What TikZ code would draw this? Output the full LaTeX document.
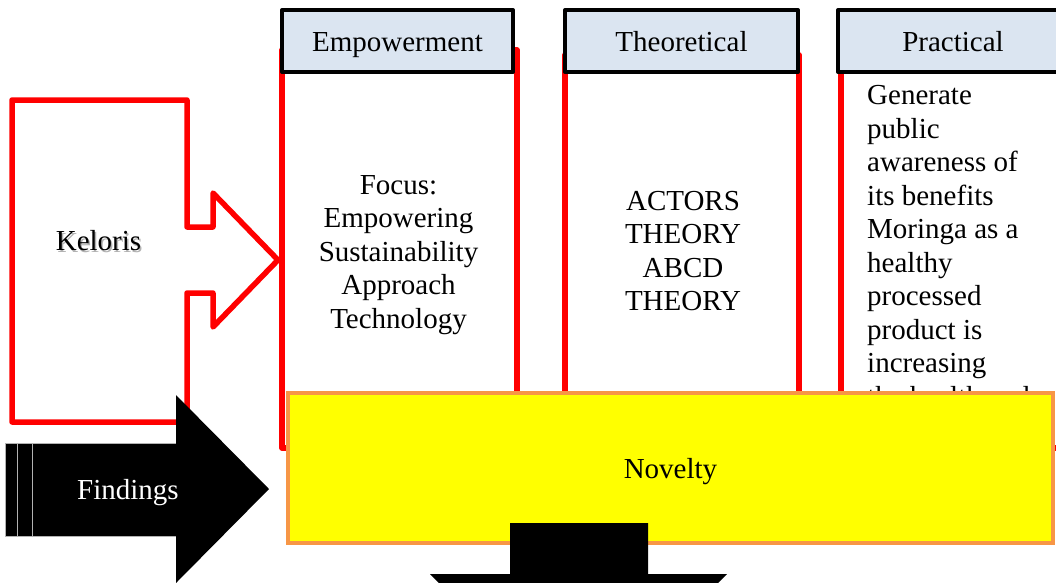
\documentclass[tikz,border=0pt]{standalone}
\usepackage{fontspec}
\setmainfont{Liberation Serif}
\definecolor{headfill}{HTML}{DBE5F1}
\definecolor{novorange}{HTML}{F79646}
\definecolor{novfill}{HTML}{FFFF00}
\begin{document}
\begin{tikzpicture}[x=1pt,y=-1pt,
  big/.style={font=\fontsize{29}{33.5}\selectfont},
  colframe/.style={draw=red, line width=5.5pt, line join=round, inner sep=0pt},
  headbox/.style={big, draw=black, fill=headfill, line width=4pt, line join=round,
    minimum height=62pt, text height=21pt, text depth=0pt, inner sep=0pt},
  onelabel/.style={big, text height=21pt, text depth=0pt, inner sep=0pt},
  blocktext/.style={big, inner sep=0pt}]
\useasboundingbox (0,0) rectangle (1056,582);
\clip (0,0) rectangle (1056,582);

% red column frames
\node[colframe, minimum width=235pt, minimum height=398pt] (empcol) at (399.5,249) {};
\node[colframe, minimum width=234pt, minimum height=393pt] (theocol) at (682,251.5) {};
\node[colframe, minimum width=234pt, minimum height=393pt] (praccol) at (958,251.5) {};

% column headers
\node[headbox, minimum width=231pt] (emphead) at (397.5,41) {Empowerment};
\node[headbox, minimum width=233pt] (theohead) at (681.5,41) {Theoretical};
\node[headbox, minimum width=230pt] (prachead) at (953,41) {Practical};

% Keloris block arrow
\draw[red, line width=5.5pt, line join=round]
  (12,100) -- (187,100) -- (187,227) -- (213,227) -- (213,193) -- (278,260)
  -- (213,327) -- (213,293) -- (187,293) -- (187,422) -- (12,422) -- cycle;
\node[onelabel, text=black!30] at (100,241.5) {Keloris};
\node[onelabel] (keloris) at (98.5,240) {Keloris};

% column contents
\node[blocktext, align=center, anchor=north] (focus) at (398.5,175)
  {Focus:\\Empowering\\Sustainability\\Approach\\Technology};
\node[blocktext, align=center, anchor=north] (theories) at (683,191)
  {ACTORS\\THEORY\\ABCD\\THEORY};
\node[blocktext, align=left, anchor=north west] (practext) at (867,85.5)
  {Generate\\public\\awareness of\\its benefits\\Moringa as a\\healthy\\processed\\product is\\increasing\\the health and};

% novelty box
\node[onelabel, draw=novorange, fill=novfill, line width=4.5pt,
  minimum width=765pt, minimum height=150pt] (novelty) at (670.5,468) {Novelty};

% findings arrow
\fill[black] (5,443) -- (176,443) -- (176,395) -- (269,489) -- (176,583)
  -- (176,536) -- (5,536) -- cycle;
\draw[gray!60, line width=0.6pt] (5,443) -- (176,443) (5,536) -- (176,536)
  (5,443) -- (5,536) (17,443) -- (17,536) (32,443) -- (32,536);
\node[onelabel, text=white] (findings) at (128,489) {Findings};

% downward arrow below the novelty box
\fill[black] (510,523) -- (648,523) -- (648,574) -- (727,574) -- (578.5,723)
  -- (430,574) -- (510,574) -- cycle;
\end{tikzpicture}
\end{document}
